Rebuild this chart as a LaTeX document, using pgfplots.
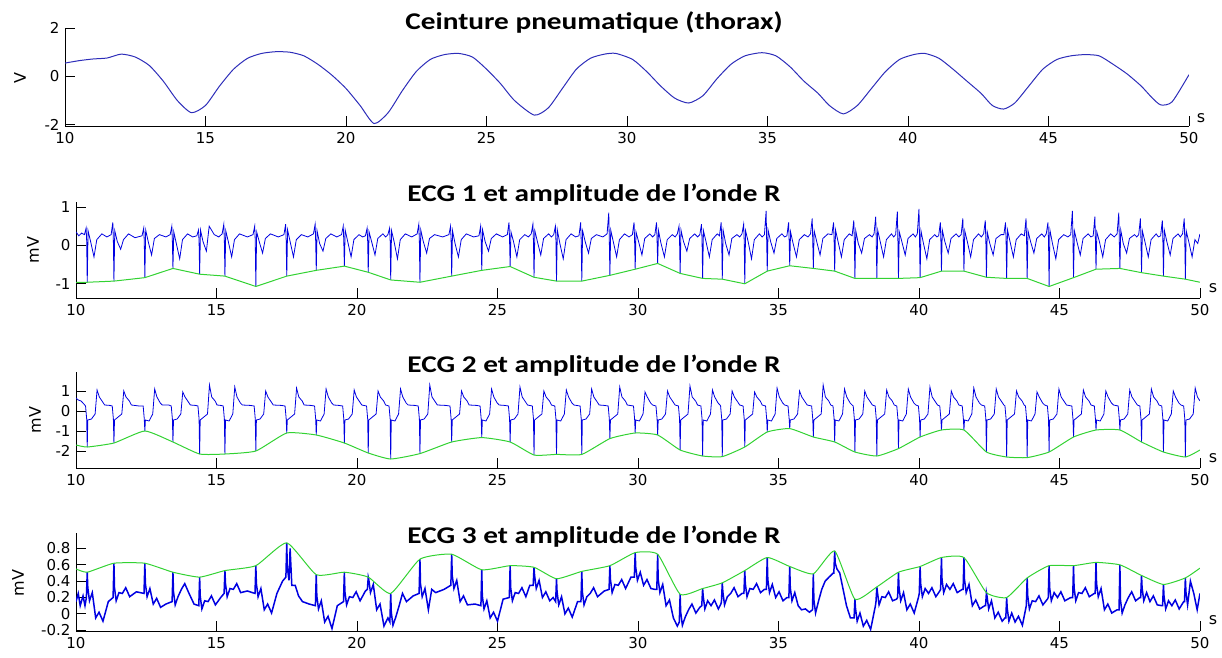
\documentclass[border=0pt]{standalone}
\usepackage{pgfplots}
\pgfplotsset{compat=1.18}
\usepackage{fontspec}
\setmainfont{DejaVu Sans}
\newfontfamily\titlefont{Carlito}
\definecolor{ecgblue}{RGB}{0,0,225}
\definecolor{respblue}{RGB}{45,45,185}
\definecolor{envgreen}{RGB}{50,210,50}
\pgfplotsset{
 mat/.style={
  scale only axis, width=1124pt, anchor=south west,
  xmin=10, xmax=50, enlargelimits=false,
  axis x line=bottom, axis y line=left,
  axis line style={-, line width=0.9pt, black},
  tick align=inside, major tick length=10pt,
  tick style={line width=0.9pt, black},
  xtick={10,15,...,50},
  xticklabels={10,15,20,25,30,35,40,45,50},
  tick label style={font=\fontsize{15}{15}\selectfont},
  xticklabel style={yshift=-3pt},
  yticklabel style={xshift=-2pt},
 }
}
\begin{document}
\begin{tikzpicture}
% ---------------- Plot 1
\begin{axis}[mat, at={(65pt,531pt)}, height=98pt, ymin=-2.05, ymax=2,
  ytick={-2,0,2}, yticklabels={-2,0,2}]
\addplot[respblue, line width=1pt, smooth, tension=0.4] coordinates {
(10.0,0.55)(10.5,0.65)(11.0,0.72)(11.5,0.76)(12.0,0.92)(12.5,0.8)(13.0,0.45)(13.5,-0.2)(14.0,-1.0)(14.5,-1.5)
(15.0,-1.2)(15.5,-0.4)(16.0,0.3)(16.5,0.75)(17.0,0.95)(17.5,1.02)(18.0,1.0)(18.5,0.85)(19.0,0.5)(19.5,0.05)
(20.0,-0.5)(20.5,-1.2)(21.0,-1.95)(21.5,-1.5)(22.0,-0.6)(22.5,0.2)(23.0,0.7)(23.5,0.9)(24.0,0.95)(24.5,0.8)
(25.0,0.3)(25.5,-0.3)(26.0,-1.0)(26.7,-1.6)(27.2,-1.3)(27.7,-0.5)(28.2,0.3)(28.7,0.75)(29.2,0.92)(29.6,0.95)
(30.2,0.7)(30.7,0.2)(31.2,-0.4)(31.7,-0.9)(32.2,-1.1)(32.7,-0.8)(33.2,-0.1)(33.7,0.5)(34.2,0.85)(34.8,0.98)
(35.3,0.85)(35.8,0.4)(36.3,-0.2)(36.8,-0.7)(37.2,-1.2)(37.7,-1.55)(38.2,-1.2)(38.7,-0.5)(39.2,0.2)(39.7,0.7)
(40.2,0.9)(40.6,0.95)(41.1,0.75)(41.6,0.3)(42.1,-0.2)(42.6,-0.7)(43.0,-1.2)(43.4,-1.35)(43.8,-1.1)(44.3,-0.4)
(44.8,0.3)(45.3,0.7)(45.8,0.85)(46.3,0.9)(46.8,0.85)(47.3,0.5)(47.8,0.1)(48.3,-0.4)(48.7,-0.9)(49.0,-1.18)
(49.4,-1.05)(50.0,0.07)};
\end{axis}
% ---------------- Plot 2
\begin{axis}[mat, at={(76pt,359pt)}, height=96pt, ymin=-1.37, ymax=1.13,
  ytick={-1,0,1}, yticklabels={-1,0,1}]
\addplot[ecgblue, line width=0.8pt] coordinates {
(10.00,0.35)(10.10,0.25)(10.20,0.32)
(10.30,0.28)(10.36,0.45)(10.38,0.12)(10.40,-0.96)(10.43,0.38)(10.52,0.10)(10.64,-0.30)(10.74,0.15)(10.92,0.30)(11.10,0.22)
(11.25,0.28)(11.31,0.60)(11.33,0.12)(11.35,-0.93)(11.38,0.38)(11.47,0.10)(11.59,-0.10)(11.69,0.15)(11.87,0.30)(12.10,0.20)
(12.35,0.25)(12.41,0.45)(12.43,0.10)(12.45,-0.84)(12.48,0.40)(12.57,0.10)(12.69,-0.25)(12.79,0.18)(12.97,0.28)(13.20,0.22)
(13.35,0.28)(13.41,0.50)(13.43,0.10)(13.45,-0.60)(13.48,0.35)(13.57,0.05)(13.69,-0.35)(13.79,0.15)(13.97,0.30)(14.15,0.22)
(14.30,0.25)(14.36,0.40)(14.38,0.10)(14.40,-0.75)(14.43,0.40)(14.52,0.10)(14.64,-0.15)(14.74,0.50)(14.92,0.28)(15.08,0.22)
(15.20,0.30)(15.26,0.55)(15.28,0.12)(15.30,-0.80)(15.33,0.38)(15.42,0.10)(15.54,-0.30)(15.64,0.15)(15.82,0.30)(16.10,0.22)
(16.30,0.28)(16.36,0.50)(16.38,0.10)(16.40,-1.07)(16.43,0.35)(16.52,0.10)(16.64,-0.20)(16.74,0.18)(16.92,0.30)(17.20,0.22)
(17.40,0.28)(17.46,0.55)(17.48,0.12)(17.50,-0.80)(17.53,0.40)(17.62,0.10)(17.74,-0.30)(17.84,0.15)(18.02,0.28)(18.25,0.22)
(18.45,0.30)(18.51,0.55)(18.53,0.10)(18.55,-0.65)(18.58,0.38)(18.67,0.05)(18.79,-0.15)(18.89,0.18)(19.07,0.30)(19.28,0.22)
(19.45,0.28)(19.51,0.50)(19.53,0.12)(19.55,-0.54)(19.58,0.40)(19.67,0.10)(19.79,-0.30)(19.89,0.15)(20.07,0.28)(20.20,0.22)
(20.30,0.25)(20.36,0.45)(20.38,0.10)(20.40,-0.70)(20.43,0.35)(20.52,0.10)(20.64,-0.25)(20.74,0.18)(20.92,0.30)(21.02,0.22)
(21.10,0.28)(21.16,0.45)(21.18,0.12)(21.20,-0.90)(21.23,0.38)(21.32,0.10)(21.44,-0.35)(21.54,0.15)(21.72,0.30)(21.95,0.22)
(22.14,0.30)(22.20,0.55)(22.22,0.10)(22.24,-0.96)(22.27,0.40)(22.36,0.10)(22.48,-0.20)(22.58,0.18)(22.76,0.28)(23.05,0.22)
(23.27,0.28)(23.33,0.50)(23.35,0.12)(23.37,-0.80)(23.40,0.38)(23.49,0.05)(23.61,-0.30)(23.71,0.15)(23.89,0.30)(24.15,0.22)
(24.34,0.25)(24.40,0.50)(24.42,0.10)(24.44,-0.65)(24.47,0.40)(24.56,0.10)(24.68,-0.15)(24.78,0.18)(24.96,0.30)(25.18,0.22)
(25.35,0.28)(25.41,0.60)(25.43,0.12)(25.45,-0.55)(25.48,0.35)(25.57,0.10)(25.69,-0.30)(25.79,0.15)(25.97,0.28)(26.10,0.22)
(26.20,0.30)(26.26,0.55)(26.28,0.10)(26.30,-0.83)(26.33,0.38)(26.42,0.10)(26.54,-0.25)(26.64,0.18)(26.82,0.30)(26.92,0.22)
(27.00,0.28)(27.06,0.50)(27.08,0.12)(27.10,-0.93)(27.13,0.40)(27.22,0.05)(27.34,-0.35)(27.44,0.15)(27.62,0.30)(27.78,0.22)
(27.90,0.25)(27.96,0.60)(27.98,0.10)(28.00,-0.93)(28.03,0.38)(28.12,0.10)(28.24,-0.20)(28.34,0.18)(28.52,0.28)(28.75,0.22)
(28.90,0.30)(28.96,0.85)(28.98,0.12)(29.00,-0.78)(29.03,0.40)(29.12,0.10)(29.24,-0.30)(29.34,0.15)(29.52,0.30)(29.68,0.22)
(29.80,0.28)(29.86,0.60)(29.88,0.10)(29.90,-0.62)(29.93,0.35)(30.02,0.10)(30.14,-0.25)(30.24,0.18)(30.42,0.30)(30.52,0.22)
(30.60,0.28)(30.66,0.60)(30.68,0.12)(30.70,-0.47)(30.73,0.38)(30.82,0.05)(30.94,-0.30)(31.04,0.15)(31.22,0.28)(31.32,0.22)
(31.40,0.30)(31.46,0.50)(31.48,0.10)(31.50,-0.73)(31.53,0.40)(31.62,0.10)(31.74,-0.15)(31.84,0.18)(32.02,0.30)(32.12,0.22)
(32.20,0.28)(32.26,0.55)(32.28,0.12)(32.30,-0.86)(32.33,0.38)(32.42,0.10)(32.54,-0.30)(32.64,0.15)(32.82,0.30)
(32.90,0.25)(32.96,0.60)(32.98,0.10)(33.00,-0.88)(33.03,0.40)(33.12,0.05)(33.24,-0.25)(33.34,0.18)(33.52,0.28)(33.62,0.22)
(33.70,0.30)(33.76,0.55)(33.78,0.12)(33.80,-1.00)(33.83,0.38)(33.92,0.10)(34.04,-0.35)(34.14,0.15)(34.32,0.30)(34.42,0.22)
(34.50,0.28)(34.56,0.90)(34.58,0.10)(34.60,-0.67)(34.63,0.40)(34.72,0.10)(34.84,-0.20)(34.94,0.18)(35.12,0.30)(35.22,0.22)
(35.30,0.25)(35.36,0.60)(35.38,0.12)(35.40,-0.53)(35.43,0.35)(35.52,0.05)(35.64,-0.30)(35.74,0.15)(35.92,0.28)(36.05,0.22)
(36.14,0.30)(36.20,0.70)(36.22,0.10)(36.24,-0.60)(36.27,0.38)(36.36,0.10)(36.48,-0.25)(36.58,0.18)(36.76,0.30)
(36.90,0.28)(36.96,0.60)(36.98,0.12)(37.00,-0.67)(37.03,0.40)(37.12,0.10)(37.24,-0.30)(37.34,0.15)(37.52,0.30)
(37.62,0.25)(37.68,0.65)(37.70,0.10)(37.72,-0.86)(37.75,0.38)(37.84,0.05)(37.96,-0.20)(38.06,0.18)(38.24,0.28)(38.33,0.22)
(38.40,0.30)(38.46,0.75)(38.48,0.12)(38.50,-0.86)(38.53,0.40)(38.62,0.10)(38.74,-0.30)(38.84,0.15)(39.02,0.30)(39.10,0.22)
(39.17,0.28)(39.23,0.88)(39.25,0.10)(39.27,-0.86)(39.30,0.35)(39.39,0.10)(39.51,-0.25)(39.61,0.18)(39.79,0.30)(39.87,0.22)
(39.94,0.30)(40.00,0.95)(40.02,0.12)(40.04,-0.84)(40.07,0.38)(40.16,0.05)(40.28,-0.35)(40.38,0.15)(40.56,0.28)(40.64,0.22)
(40.70,0.25)(40.76,0.60)(40.78,0.10)(40.80,-0.67)(40.83,0.40)(40.92,0.10)(41.04,-0.20)(41.14,0.18)(41.32,0.30)(41.42,0.22)
(41.50,0.28)(41.56,0.70)(41.58,0.12)(41.60,-0.67)(41.63,0.38)(41.72,0.10)(41.84,-0.30)(41.94,0.15)(42.12,0.30)(42.22,0.22)
(42.30,0.30)(42.36,0.65)(42.38,0.10)(42.40,-0.83)(42.43,0.35)(42.52,0.05)(42.64,-0.25)(42.74,0.18)(42.92,0.28)
(43.02,0.28)(43.08,0.60)(43.10,0.12)(43.12,-0.86)(43.15,0.40)(43.24,0.10)(43.36,-0.30)(43.46,0.15)(43.64,0.30)
(43.75,0.25)(43.81,0.70)(43.83,0.10)(43.85,-0.86)(43.88,0.38)(43.97,0.10)(44.09,-0.20)(44.19,0.18)(44.37,0.30)(44.46,0.22)
(44.53,0.30)(44.59,0.60)(44.61,0.12)(44.63,-1.07)(44.66,0.40)(44.75,0.05)(44.87,-0.35)(44.97,0.15)(45.15,0.28)(45.30,0.22)
(45.40,0.28)(45.46,0.90)(45.48,0.10)(45.50,-0.84)(45.53,0.38)(45.62,0.10)(45.74,-0.25)(45.84,0.18)(46.02,0.30)(46.12,0.22)
(46.20,0.25)(46.26,0.75)(46.28,0.12)(46.30,-0.62)(46.33,0.35)(46.42,0.10)(46.54,-0.30)(46.64,0.15)(46.82,0.30)(46.95,0.22)
(47.05,0.30)(47.11,0.85)(47.13,0.10)(47.15,-0.60)(47.18,0.40)(47.27,0.05)(47.39,-0.20)(47.49,0.18)(47.67,0.28)(47.75,0.22)
(47.82,0.28)(47.88,0.70)(47.90,0.12)(47.92,-0.71)(47.95,0.38)(48.04,0.10)(48.16,-0.30)(48.26,0.15)(48.44,0.30)(48.52,0.22)
(48.60,0.25)(48.66,0.65)(48.68,0.10)(48.70,-0.80)(48.73,0.40)(48.82,0.10)(48.94,-0.25)(49.04,0.18)(49.22,0.30)(49.30,0.22)
(49.38,0.30)(49.44,0.70)(49.46,0.12)(49.48,-0.88)(49.51,0.38)(49.60,0.10)(49.72,-0.30)(49.82,0.15)(49.92,0.05)(50.00,0.30)};
\addplot[envgreen, line width=1pt] coordinates {
(10.00,-0.96)(10.40,-0.96)(11.35,-0.93)(12.45,-0.84)(13.45,-0.60)(14.40,-0.75)(15.30,-0.80)(16.40,-1.07)(17.50,-0.80)(18.55,-0.65)
(19.55,-0.54)(20.40,-0.70)(21.20,-0.90)(22.24,-0.96)(23.37,-0.80)(24.44,-0.65)(25.45,-0.55)(26.30,-0.83)(27.10,-0.93)(28.00,-0.93)
(29.00,-0.78)(29.90,-0.62)(30.70,-0.47)(31.50,-0.73)(32.30,-0.86)(33.00,-0.88)(33.80,-1.00)(34.60,-0.67)(35.40,-0.53)(36.24,-0.60)
(37.00,-0.67)(37.72,-0.86)(38.50,-0.86)(39.27,-0.86)(40.04,-0.84)(40.80,-0.67)(41.60,-0.67)(42.40,-0.83)(43.12,-0.86)(43.85,-0.86)
(44.63,-1.07)(45.50,-0.84)(46.30,-0.62)(47.15,-0.60)(47.92,-0.71)(48.70,-0.80)(49.48,-0.88)(50.00,-0.96)};
\end{axis}
% ---------------- Plot 3
\begin{axis}[mat, at={(76pt,189pt)}, height=96pt, ymin=-2.85, ymax=1.95,
  ytick={-2,-1,0,1}, yticklabels={-2,-1,0,1}]
\addplot[ecgblue, line width=0.8pt] coordinates {
(10.00,0.65)(10.08,0.55)(10.18,0.50)(10.28,0.35)
(10.34,0.25)(10.38,-0.40)(10.40,-1.80)(10.42,-0.45)(10.55,-0.40)(10.68,-0.15)(10.75,1.05)(10.83,0.70)(10.95,0.45)(11.02,0.30)(11.20,0.28)
(11.29,0.25)(11.33,-0.40)(11.35,-1.60)(11.37,-0.45)(11.50,-0.30)(11.63,-0.15)(11.70,1.00)(11.78,0.70)(11.90,0.50)(11.97,0.30)(12.25,0.25)
(12.39,0.25)(12.43,-0.40)(12.45,-1.00)(12.47,-0.45)(12.60,-0.50)(12.73,-0.15)(12.80,1.10)(12.88,0.70)(13.00,0.40)(13.07,0.30)(13.30,0.30)
(13.39,0.25)(13.43,-0.40)(13.45,-1.55)(13.47,-0.45)(13.60,-0.40)(13.73,-0.15)(13.80,0.95)(13.88,0.70)(14.00,0.45)(14.07,0.30)(14.25,0.28)
(14.34,0.25)(14.38,-0.40)(14.40,-2.15)(14.42,-0.45)(14.55,-0.30)(14.68,-0.15)(14.75,1.30)(14.83,0.70)(14.95,0.50)(15.02,0.30)(15.15,0.28)
(15.24,0.25)(15.28,-0.40)(15.30,-2.15)(15.32,-0.45)(15.45,-0.50)(15.58,-0.15)(15.65,1.20)(15.73,0.70)(15.85,0.40)(15.92,0.30)(16.20,0.28)
(16.34,0.25)(16.38,-0.40)(16.40,-2.00)(16.42,-0.45)(16.55,-0.40)(16.68,-0.15)(16.75,1.00)(16.83,0.70)(16.95,0.45)(17.02,0.30)(17.30,0.28)
(17.44,0.25)(17.48,-0.40)(17.50,-1.10)(17.52,-0.45)(17.65,-0.30)(17.78,-0.15)(17.85,1.15)(17.93,0.70)(18.05,0.50)(18.12,0.30)(18.35,0.28)
(18.49,0.25)(18.53,-0.40)(18.55,-1.20)(18.57,-0.45)(18.70,-0.50)(18.83,-0.15)(18.90,1.10)(18.98,0.70)(19.10,0.40)(19.17,0.30)(19.35,0.28)
(19.49,0.25)(19.53,-0.40)(19.55,-1.60)(19.57,-0.45)(19.70,-0.40)(19.83,-0.15)(19.90,1.05)(19.98,0.70)(20.10,0.45)(20.17,0.30)
(20.34,0.25)(20.38,-0.40)(20.40,-2.10)(20.42,-0.45)(20.55,-0.30)(20.68,-0.15)(20.75,1.00)(20.83,0.70)(20.95,0.50)(21.02,0.30)
(21.14,0.25)(21.18,-0.40)(21.20,-2.40)(21.22,-0.45)(21.35,-0.50)(21.48,-0.15)(21.55,1.10)(21.63,0.70)(21.75,0.40)(21.82,0.30)(22.05,0.28)
(22.18,0.25)(22.22,-0.40)(22.24,-2.13)(22.26,-0.45)(22.39,-0.40)(22.52,-0.15)(22.59,1.30)(22.67,0.70)(22.79,0.45)(22.86,0.30)(23.15,0.28)
(23.31,0.25)(23.35,-0.40)(23.37,-1.55)(23.39,-0.45)(23.52,-0.30)(23.65,-0.15)(23.72,1.00)(23.80,0.70)(23.92,0.50)(23.99,0.30)(24.25,0.28)
(24.38,0.25)(24.42,-0.40)(24.44,-1.33)(24.46,-0.45)(24.59,-0.50)(24.72,-0.15)(24.79,1.10)(24.87,0.70)(24.99,0.40)(25.06,0.30)(25.25,0.28)
(25.39,0.25)(25.43,-0.40)(25.45,-1.55)(25.47,-0.45)(25.60,-0.40)(25.73,-0.15)(25.80,1.20)(25.88,0.70)(26.00,0.45)(26.07,0.30)
(26.24,0.25)(26.28,-0.40)(26.30,-2.20)(26.32,-0.45)(26.45,-0.30)(26.58,-0.15)(26.65,1.00)(26.73,0.70)(26.85,0.50)(26.92,0.30)
(27.04,0.25)(27.08,-0.40)(27.10,-2.17)(27.12,-0.45)(27.25,-0.50)(27.38,-0.15)(27.45,1.05)(27.53,0.70)(27.65,0.40)(27.72,0.30)
(27.94,0.25)(27.98,-0.40)(28.00,-2.17)(28.02,-0.45)(28.15,-0.40)(28.28,-0.15)(28.35,1.10)(28.43,0.70)(28.55,0.45)(28.62,0.30)(28.80,0.28)
(28.94,0.25)(28.98,-0.40)(29.00,-1.38)(29.02,-0.45)(29.15,-0.30)(29.28,-0.15)(29.35,1.20)(29.43,0.70)(29.55,0.50)(29.62,0.30)
(29.84,0.25)(29.88,-0.40)(29.90,-1.10)(29.92,-0.45)(30.05,-0.50)(30.18,-0.15)(30.25,0.95)(30.33,0.70)(30.45,0.40)(30.52,0.30)
(30.64,0.25)(30.68,-0.40)(30.70,-1.20)(30.72,-0.45)(30.85,-0.40)(30.98,-0.15)(31.05,1.00)(31.13,0.70)(31.25,0.45)(31.32,0.30)
(31.44,0.25)(31.48,-0.40)(31.50,-1.95)(31.52,-0.45)(31.65,-0.30)(31.78,-0.15)(31.85,1.25)(31.93,0.70)(32.05,0.50)(32.12,0.30)
(32.24,0.25)(32.28,-0.40)(32.30,-2.25)(32.32,-0.45)(32.45,-0.50)(32.58,-0.15)(32.65,1.05)(32.73,0.70)(32.85,0.40)(32.92,0.30)
(32.94,0.25)(32.98,-0.40)(33.00,-2.28)(33.02,-0.45)(33.15,-0.40)(33.28,-0.15)(33.35,1.00)(33.43,0.70)(33.55,0.45)(33.62,0.30)
(33.74,0.25)(33.78,-0.40)(33.80,-1.80)(33.82,-0.45)(33.95,-0.30)(34.08,-0.15)(34.15,0.95)(34.23,0.70)(34.35,0.50)(34.42,0.30)
(34.54,0.25)(34.58,-0.40)(34.60,-1.05)(34.62,-0.45)(34.75,-0.50)(34.88,-0.15)(34.95,1.15)(35.03,0.70)(35.15,0.40)(35.22,0.30)
(35.34,0.25)(35.38,-0.40)(35.40,-0.88)(35.42,-0.45)(35.55,-0.40)(35.68,-0.15)(35.75,1.00)(35.83,0.70)(35.95,0.45)(36.02,0.30)
(36.18,0.25)(36.22,-0.40)(36.24,-1.30)(36.26,-0.45)(36.39,-0.30)(36.52,-0.15)(36.59,1.30)(36.67,0.70)(36.79,0.50)(36.86,0.30)
(36.94,0.25)(36.98,-0.40)(37.00,-1.55)(37.02,-0.45)(37.15,-0.50)(37.28,-0.15)(37.35,1.10)(37.43,0.70)(37.55,0.40)(37.62,0.30)
(37.66,0.25)(37.70,-0.40)(37.72,-2.05)(37.74,-0.45)(37.87,-0.40)(38.00,-0.15)(38.07,1.00)(38.15,0.70)(38.27,0.45)(38.34,0.30)
(38.44,0.25)(38.48,-0.40)(38.50,-2.25)(38.52,-0.45)(38.65,-0.30)(38.78,-0.15)(38.85,1.05)(38.93,0.70)(39.05,0.50)(39.12,0.30)
(39.21,0.25)(39.25,-0.40)(39.27,-1.88)(39.29,-0.45)(39.42,-0.50)(39.55,-0.15)(39.62,1.10)(39.70,0.70)(39.82,0.40)(39.89,0.30)
(39.98,0.25)(40.02,-0.40)(40.04,-1.30)(40.06,-0.45)(40.19,-0.40)(40.32,-0.15)(40.39,1.20)(40.47,0.70)(40.59,0.45)(40.66,0.30)
(40.74,0.25)(40.78,-0.40)(40.80,-0.95)(40.82,-0.45)(40.95,-0.30)(41.08,-0.15)(41.15,1.00)(41.23,0.70)(41.35,0.50)(41.42,0.30)
(41.54,0.25)(41.58,-0.40)(41.60,-0.95)(41.62,-0.45)(41.75,-0.50)(41.88,-0.15)(41.95,1.15)(42.03,0.70)(42.15,0.40)(42.22,0.30)
(42.34,0.25)(42.38,-0.40)(42.40,-2.05)(42.42,-0.45)(42.55,-0.40)(42.68,-0.15)(42.75,1.10)(42.83,0.70)(42.95,0.45)(43.02,0.30)
(43.06,0.25)(43.10,-0.40)(43.12,-2.30)(43.14,-0.45)(43.27,-0.30)(43.40,-0.15)(43.47,1.00)(43.55,0.70)(43.67,0.50)(43.74,0.30)
(43.79,0.25)(43.83,-0.40)(43.85,-2.33)(43.87,-0.45)(44.00,-0.50)(44.13,-0.15)(44.20,0.95)(44.28,0.70)(44.40,0.40)(44.47,0.30)
(44.57,0.25)(44.61,-0.40)(44.63,-2.05)(44.65,-0.45)(44.78,-0.40)(44.91,-0.15)(44.98,1.10)(45.06,0.70)(45.18,0.45)(45.25,0.30)
(45.44,0.25)(45.48,-0.40)(45.50,-1.30)(45.52,-0.45)(45.65,-0.30)(45.78,-0.15)(45.85,1.05)(45.93,0.70)(46.05,0.50)(46.12,0.30)
(46.24,0.25)(46.28,-0.40)(46.30,-0.95)(46.32,-0.45)(46.45,-0.50)(46.58,-0.15)(46.65,1.00)(46.73,0.70)(46.85,0.40)(46.92,0.30)
(47.09,0.25)(47.13,-0.40)(47.15,-0.95)(47.17,-0.45)(47.30,-0.40)(47.43,-0.15)(47.50,1.05)(47.58,0.70)(47.70,0.45)(47.77,0.30)
(47.86,0.25)(47.90,-0.40)(47.92,-1.55)(47.94,-0.45)(48.07,-0.30)(48.20,-0.15)(48.27,1.10)(48.35,0.70)(48.47,0.50)(48.54,0.30)
(48.64,0.25)(48.68,-0.40)(48.70,-2.05)(48.72,-0.45)(48.85,-0.50)(48.98,-0.15)(49.05,1.00)(49.13,0.70)(49.25,0.40)(49.32,0.30)
(49.42,0.25)(49.46,-0.40)(49.48,-2.30)(49.50,-0.45)(49.63,-0.40)(49.76,-0.15)(49.83,1.15)(49.91,0.70)(50.00,0.50)};
\addplot[envgreen, line width=1pt, smooth, tension=0.3] coordinates {
(10.00,-1.70)(10.40,-1.80)(11.35,-1.60)(12.45,-1.00)(13.45,-1.55)(14.40,-2.15)(15.30,-2.15)(16.40,-2.00)(17.50,-1.10)(18.55,-1.20)
(19.55,-1.60)(20.40,-2.10)(21.20,-2.40)(22.24,-2.13)(23.37,-1.55)(24.44,-1.33)(25.45,-1.55)(26.30,-2.20)(27.10,-2.17)(28.00,-2.17)
(29.00,-1.38)(29.90,-1.10)(30.70,-1.20)(31.50,-1.95)(32.30,-2.25)(33.00,-2.28)(33.80,-1.80)(34.60,-1.05)(35.40,-0.88)(36.24,-1.30)
(37.00,-1.55)(37.72,-2.05)(38.50,-2.25)(39.27,-1.88)(40.04,-1.30)(40.80,-0.95)(41.60,-0.95)(42.40,-2.05)(43.12,-2.30)(43.85,-2.33)
(44.63,-2.05)(45.50,-1.30)(46.30,-0.95)(47.15,-0.95)(47.92,-1.55)(48.70,-2.05)(49.48,-2.30)(50.00,-1.95)};
\end{axis}
% ---------------- Plot 4
\begin{axis}[mat, at={(76pt,26pt)}, height=98pt, ymin=-0.21, ymax=0.99,
  ytick={-0.2,0,0.2,0.4,0.6,0.8}, yticklabels={-0.2,0,0.2,0.4,0.6,0.8}]
\addplot[ecgblue, line width=1.5pt] coordinates {
(10.00,0.15)(10.08,0.25)(10.15,0.10)(10.25,0.22)(10.32,0.10)
(10.37,0.20)(10.40,0.51)(10.42,0.32)(10.48,0.16)(10.58,0.26)(10.70,-0.05)(10.82,0.02)(10.96,-0.09)(11.15,0.15)
(11.32,0.20)(11.35,0.62)(11.37,0.32)(11.43,0.16)(11.53,0.26)(11.65,0.25)(11.77,0.32)(11.91,0.21)(12.15,0.27)
(12.42,0.25)(12.45,0.62)(12.47,0.37)(12.53,0.21)(12.63,0.31)(12.75,0.12)(12.87,0.19)(13.01,0.08)(13.20,0.12)
(13.42,0.15)(13.45,0.51)(13.47,0.27)(13.53,0.11)(13.63,0.21)(13.75,0.30)(13.87,0.37)(14.01,0.26)(14.20,0.12)
(14.37,0.10)(14.40,0.45)(14.42,0.22)(14.48,0.06)(14.58,0.16)(14.70,0.15)(14.82,0.22)(14.96,0.11)(15.15,0.20)
(15.27,0.25)(15.30,0.53)(15.32,0.37)(15.38,0.21)(15.48,0.31)(15.60,0.30)(15.72,0.37)(15.86,0.26)(16.10,0.28)
(16.37,0.25)(16.40,0.59)(16.42,0.37)(16.48,0.21)(16.58,0.31)(16.70,0.05)(16.82,0.12)(16.96,0.01)(17.15,0.25)(17.35,0.40)
(17.47,0.45)(17.50,0.87)(17.52,0.57)(17.58,0.41)(17.62,0.80)(17.68,0.35)(17.80,0.35)(17.92,0.22)(18.06,0.15)(18.30,0.12)
(18.52,0.10)(18.55,0.48)(18.57,0.22)(18.63,0.06)(18.73,0.16)(18.85,-0.10)(18.97,-0.03)(19.11,-0.18)(19.30,0.10)
(19.52,0.15)(19.55,0.51)(19.57,0.27)(19.63,0.11)(19.73,0.21)(19.85,0.20)(19.97,0.27)(20.11,0.16)(20.30,0.28)
(20.37,0.30)(20.40,0.45)(20.42,0.42)(20.48,0.26)(20.58,0.36)(20.70,0.05)(20.82,0.12)(20.96,-0.15)(21.10,-0.05)
(21.17,-0.10)(21.20,0.25)(21.22,0.02)(21.28,-0.14)(21.38,-0.04)(21.50,0.10)(21.62,0.25)(21.76,0.15)(22.00,0.22)
(22.21,0.25)(22.24,0.67)(22.26,0.37)(22.32,0.21)(22.42,0.31)(22.54,0.05)(22.66,0.30)(22.80,0.26)(23.10,0.30)
(23.34,0.35)(23.37,0.73)(23.39,0.47)(23.45,0.31)(23.55,0.41)(23.67,0.15)(23.79,0.22)(23.93,0.11)(24.20,0.12)
(24.41,0.10)(24.44,0.54)(24.46,0.22)(24.52,0.06)(24.62,0.16)(24.74,-0.05)(24.86,0.02)(25.00,-0.09)(25.20,0.18)
(25.42,0.20)(25.45,0.59)(25.47,0.32)(25.53,0.16)(25.63,0.26)(25.75,0.25)(25.87,0.32)(26.01,0.21)(26.15,0.35)
(26.27,0.35)(26.30,0.57)(26.32,0.47)(26.38,0.31)(26.48,0.41)(26.60,0.20)(26.72,0.27)(26.86,0.16)(26.98,0.20)
(27.07,0.15)(27.10,0.43)(27.12,0.27)(27.18,0.11)(27.28,0.21)(27.40,0.00)(27.52,0.07)(27.66,-0.04)(27.85,0.15)
(27.97,0.15)(28.00,0.52)(28.02,0.27)(28.08,0.11)(28.18,0.21)(28.30,0.25)(28.42,0.32)(28.56,0.21)(28.80,0.28)
(28.97,0.30)(29.00,0.59)(29.02,0.42)(29.08,0.26)(29.18,0.36)(29.30,0.35)(29.42,0.42)(29.56,0.31)(29.75,0.45)
(29.87,0.45)(29.90,0.75)(29.92,0.57)(29.98,0.41)(30.08,0.51)(30.20,0.35)(30.32,0.42)(30.46,0.31)(30.60,0.30)
(30.67,0.30)(30.70,0.73)(30.72,0.42)(30.78,0.26)(30.88,0.36)(31.00,0.10)(31.12,0.17)(31.26,-0.05)(31.40,-0.15)
(31.47,-0.10)(31.50,0.24)(31.52,0.02)(31.58,-0.14)(31.68,-0.04)(31.80,0.05)(31.92,0.12)(32.06,0.01)(32.20,0.08)
(32.27,0.10)(32.30,0.31)(32.32,0.22)(32.38,0.06)(32.48,0.16)(32.60,0.10)(32.72,0.17)(32.86,0.06)(32.95,0.12)
(32.97,0.15)(33.00,0.38)(33.02,0.27)(33.08,0.11)(33.18,0.21)(33.30,0.25)(33.42,0.32)(33.56,0.21)(33.70,0.25)
(33.77,0.25)(33.80,0.53)(33.82,0.37)(33.88,0.21)(33.98,0.31)(34.10,0.30)(34.22,0.37)(34.36,0.26)(34.50,0.30)
(34.57,0.30)(34.60,0.69)(34.62,0.42)(34.68,0.26)(34.78,0.36)(34.90,0.20)(35.02,0.27)(35.16,0.16)(35.30,0.20)
(35.37,0.20)(35.40,0.58)(35.42,0.32)(35.48,0.16)(35.58,0.26)(35.70,0.10)(35.82,0.05)(35.96,0.06)(36.10,0.02)
(36.21,0.05)(36.24,0.49)(36.26,0.17)(36.32,0.01)(36.42,0.15)(36.54,0.30)(36.66,0.40)(36.80,0.45)(36.95,0.50)
(36.97,0.50)(37.00,0.77)(37.02,0.62)(37.08,0.55)(37.18,0.50)(37.30,0.30)(37.42,0.10)(37.56,-0.05)(37.68,-0.05)
(37.69,-0.05)(37.72,0.18)(37.74,0.07)(37.80,-0.09)(37.90,0.01)(38.02,-0.15)(38.14,-0.08)(38.28,-0.19)(38.45,0.10)
(38.47,0.15)(38.50,0.33)(38.52,0.27)(38.58,0.11)(38.68,0.21)(38.80,0.20)(38.92,0.27)(39.06,0.16)(39.20,0.18)
(39.24,0.20)(39.27,0.51)(39.29,0.32)(39.35,0.16)(39.45,0.26)(39.57,0.05)(39.69,0.12)(39.83,0.01)(39.98,0.20)
(40.01,0.25)(40.04,0.58)(40.06,0.37)(40.12,0.21)(40.22,0.31)(40.34,0.25)(40.46,0.32)(40.60,0.21)(40.74,0.28)
(40.77,0.30)(40.80,0.69)(40.82,0.42)(40.88,0.26)(40.98,0.36)(41.10,0.30)(41.22,0.37)(41.36,0.26)(41.54,0.30)
(41.57,0.30)(41.60,0.69)(41.62,0.42)(41.68,0.26)(41.78,0.36)(41.90,0.10)(42.02,0.17)(42.16,0.06)(42.34,0.10)
(42.37,0.10)(42.40,0.26)(42.42,0.22)(42.48,0.06)(42.58,0.16)(42.70,-0.05)(42.82,0.02)(42.96,-0.09)(43.06,-0.05)
(43.09,-0.05)(43.12,0.20)(43.14,0.07)(43.20,-0.09)(43.30,0.01)(43.42,-0.10)(43.54,-0.03)(43.68,-0.14)(43.79,0.05)
(43.82,0.10)(43.85,0.44)(43.87,0.22)(43.93,0.06)(44.03,0.16)(44.15,0.15)(44.27,0.22)(44.41,0.11)(44.57,0.18)
(44.60,0.20)(44.63,0.59)(44.65,0.32)(44.71,0.16)(44.81,0.26)(44.93,0.20)(45.05,0.27)(45.19,0.16)(45.40,0.20)
(45.47,0.20)(45.50,0.59)(45.52,0.32)(45.58,0.16)(45.68,0.26)(45.80,0.25)(45.92,0.32)(46.06,0.21)(46.24,0.25)
(46.27,0.25)(46.30,0.63)(46.32,0.37)(46.38,0.21)(46.48,0.31)(46.60,0.05)(46.72,0.12)(46.86,0.01)(47.05,0.05)
(47.12,0.05)(47.15,0.60)(47.17,0.17)(47.23,0.01)(47.33,0.11)(47.45,0.20)(47.57,0.27)(47.71,0.16)(47.86,0.20)
(47.89,0.20)(47.92,0.47)(47.94,0.32)(48.00,0.16)(48.10,0.26)(48.22,0.15)(48.34,0.22)(48.48,0.11)(48.64,0.10)
(48.67,0.10)(48.70,0.36)(48.72,0.22)(48.78,0.06)(48.88,0.16)(49.00,0.10)(49.12,0.17)(49.26,0.06)(49.42,0.15)
(49.45,0.15)(49.48,0.44)(49.50,0.27)(49.56,0.11)(49.66,0.40)(49.78,0.25)(49.90,0.05)(50.00,0.25)};
\addplot[envgreen, line width=1pt, smooth, tension=0.3] coordinates {
(10.00,0.55)(10.40,0.51)(11.35,0.62)(12.45,0.62)(13.45,0.51)(14.40,0.45)(15.30,0.53)(16.40,0.59)(17.50,0.87)(18.55,0.48)
(19.55,0.51)(20.40,0.45)(21.20,0.25)(22.24,0.67)(23.37,0.73)(24.44,0.54)(25.45,0.59)(26.30,0.57)(27.10,0.43)(28.00,0.52)
(29.00,0.59)(29.90,0.75)(30.70,0.73)(31.50,0.24)(32.30,0.31)(33.00,0.38)(33.80,0.53)(34.60,0.69)(35.40,0.58)(36.24,0.49)
(37.00,0.77)(37.72,0.18)(38.50,0.33)(39.27,0.51)(40.04,0.58)(40.80,0.69)(41.60,0.69)(42.40,0.26)(43.12,0.20)(43.85,0.44)
(44.63,0.59)(45.50,0.59)(46.30,0.63)(47.15,0.60)(47.92,0.47)(48.70,0.36)(49.48,0.44)(50.00,0.56)};
\end{axis}
% ---------------- titles and labels
\begin{scope}[every node/.style={inner sep=0pt}]
\node[anchor=base, xscale=1.22, font=\titlefont\bfseries\fontsize{24}{24}\selectfont] at (594pt,627pt) {Ceinture pneumatique (thorax)};
\node[anchor=base, xscale=1.22, font=\titlefont\bfseries\fontsize{24}{24}\selectfont] at (594pt,455pt) {ECG 1 et amplitude de l’onde R};
\node[anchor=base, xscale=1.22, font=\titlefont\bfseries\fontsize{24}{24}\selectfont] at (594pt,285pt) {ECG 2 et amplitude de l’onde R};
\node[anchor=base, xscale=1.22, font=\titlefont\bfseries\fontsize{24}{24}\selectfont] at (594pt,114pt) {ECG 3 et amplitude de l’onde R};
\node[rotate=90, font=\fontsize{16}{16}\selectfont] at (20pt,579pt) {V};
\node[rotate=90, font=\fontsize{16}{16}\selectfont] at (33pt,407pt) {mV};
\node[rotate=90, font=\fontsize{16}{16}\selectfont] at (35pt,237pt) {mV};
\node[rotate=90, font=\fontsize{16}{16}\selectfont] at (18pt,74pt) {mV};
\node[font=\fontsize{16}{16}\selectfont] at (1201pt,539pt) {s};
\node[font=\fontsize{16}{16}\selectfont] at (1213pt,369pt) {s};
\node[font=\fontsize{16}{16}\selectfont] at (1213pt,199pt) {s};
\node[font=\fontsize{16}{16}\selectfont] at (1213pt,37pt) {s};
\end{scope}
\pgfresetboundingbox
\path[use as bounding box] (0,0) rectangle (1222pt,657pt);
\end{tikzpicture}
\end{document}
